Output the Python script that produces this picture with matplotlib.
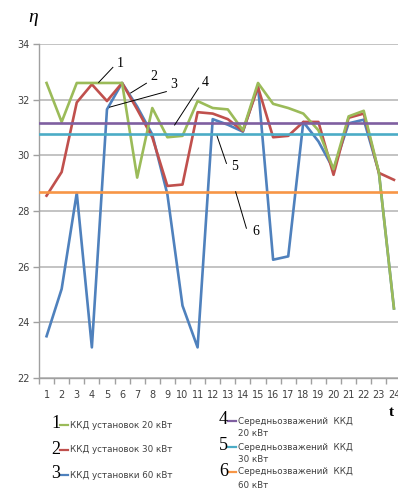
import matplotlib.pyplot as plt
from matplotlib.lines import Line2D

# Години доби
hours = list(range(1, 25))

# ККД установок, %
eff_20 = [32.6, 31.2, 32.6, 32.6, 32.6, 32.6, 29.2, 31.7, 30.65, 30.7, 31.95,
          31.7, 31.65, 30.9, 32.6, 31.85, 31.7, 31.5, 30.9, 29.5, 31.4, 31.6,
          29.4, 24.5]
eff_30 = [28.55, 29.4, 31.9, 32.55, 31.95, 32.6, 31.65, 30.65, 28.9, 28.95,
          31.55, 31.5, 31.3, 30.87, 32.45, 30.65, 30.7, 31.2, 31.2, 29.3, 31.35,
          31.5, 29.37, 29.12]
eff_60 = [23.5, 25.2, 28.65, 23.1, 31.65, 32.6, 31.75, 30.75, 28.6, 24.6, 23.1,
          31.3, 31.1, 30.85, 32.5, 26.25, 26.37, 31.2, 30.5, 29.5, 31.15, 31.28,
          29.4, 24.5]

# Середньозважені значення ККД
avg_20 = 31.15
avg_30 = 30.77
avg_60 = 28.7

y_ticks = [22, 24, 26, 28, 30, 32, 34]

C_BLUE = "#4F81BD"
C_RED = "#C0504D"
C_GREEN = "#9BBB59"
C_PURPLE = "#7F5FA0"
C_AQUA = "#4BACC6"
C_ORANGE = "#F79646"

fig = plt.figure(figsize=(3.98, 5.01), dpi=100)
ax = fig.add_axes([39 / 398, 123 / 501, 362.5 / 398, 334 / 501])

lw = 1.9
ax.plot(hours, eff_60, color=C_BLUE, lw=lw, zorder=3)
ax.plot(hours, eff_30, color=C_RED, lw=lw, zorder=4)
ax.plot(hours, eff_20, color=C_GREEN, lw=lw, zorder=5)
ax.axhline(avg_20, color=C_PURPLE, lw=lw, zorder=6)
ax.axhline(avg_30, color=C_AQUA, lw=lw, zorder=6)
ax.axhline(avg_60, color=C_ORANGE, lw=lw, zorder=6)

ax.set_xlim(0.5, 24.5)
ax.set_ylim(22, 34)
ax.set_yticks(y_ticks)
ax.set_xticks(hours)
ax.set_xticks([h - 0.5 for h in hours] + [24.5], minor=True)
ax.tick_params(axis="x", which="major", length=0, pad=9, labelsize=7,
               labelcolor="#404040")
ax.tick_params(axis="x", which="minor", length=4, color="#A0A0A0", width=1)
ax.tick_params(axis="y", length=4, color="#A0A0A0", width=1, labelsize=7,
               labelcolor="#404040", pad=3)
ax.grid(axis="y", color="#BEBEBE", lw=1.3, zorder=0)
for side in ("top", "right"):
    ax.spines[side].set_visible(False)
for side in ("left", "bottom"):
    ax.spines[side].set_color("#A0A0A0")
    ax.spines[side].set_linewidth(1)

# Виноски з номерами кривих
callouts = [
    ("1", (4.45, 32.62), (5.39, 33.16), (5.65, 33.3)),
    ("2", (6.57, 32.24), (7.61, 32.59), (7.85, 32.83)),
    ("3", (5.17, 31.73), (8.93, 32.29), (9.2, 32.53)),
    ("4", (9.48, 31.09), (11.07, 32.42), (11.25, 32.63)),
    ("5", (12.29, 30.69), (12.91, 29.71), (13.2, 29.59)),
    ("6", (13.52, 28.69), (14.23, 27.38), (14.65, 27.26)),
]
for num, p0, p1, pt in callouts:
    ax.plot([p0[0], p1[0]], [p0[1], p1[1]], color="black", lw=0.7, zorder=7)
    ax.text(pt[0], pt[1], num, family="Liberation Serif", fontsize=10,
            ha="left", va="center", zorder=7)

fig.text(33 / 398, 1 - 18 / 501, "η", family="Liberation Serif",
         style="italic", fontsize=14, ha="center", va="center")
fig.text(391 / 398, 1 - 412 / 501, "t", family="Liberation Serif",
         weight="bold", fontsize=11, ha="center", va="center")

# Підписи кривих під графіком
legend_rows = [
    ("1", C_GREEN, ["ККД установок 20 кВт"], 51, 424),
    ("2", C_RED, ["ККД установок 30 кВт"], 51, 449),
    ("3", C_BLUE, ["ККД установки 60 кВт"], 51, 474),
    ("4", C_PURPLE, ["Середньозважений  ККД", "20 кВт"], 219, 420),
    ("5", C_AQUA, ["Середньозважений  ККД", "30 кВт"], 219, 446),
    ("6", C_ORANGE, ["Середньозважений  ККД", "60 кВт"], 219, 471),
]
W, H = 398, 501
for num, col, lines, x0, y0 in legend_rows:
    fig.text(x0 / W, 1 - y0 / H, num, family="Liberation Serif", fontsize=13,
             ha="left", va="center")
    fig.add_artist(Line2D([(x0 + 9) / W, (x0 + 17) / W],
                          [1 - (y0 + 1) / H, 1 - (y0 + 1) / H],
                          color=col, lw=1.6))
    for k, txt in enumerate(lines):
        fig.text((x0 + 19) / W, 1 - (y0 + 1 + k * 13) / H, txt,
                 fontsize=6.3, color="#404040", ha="left", va="center")

fig.savefig("out.png", dpi=100)
